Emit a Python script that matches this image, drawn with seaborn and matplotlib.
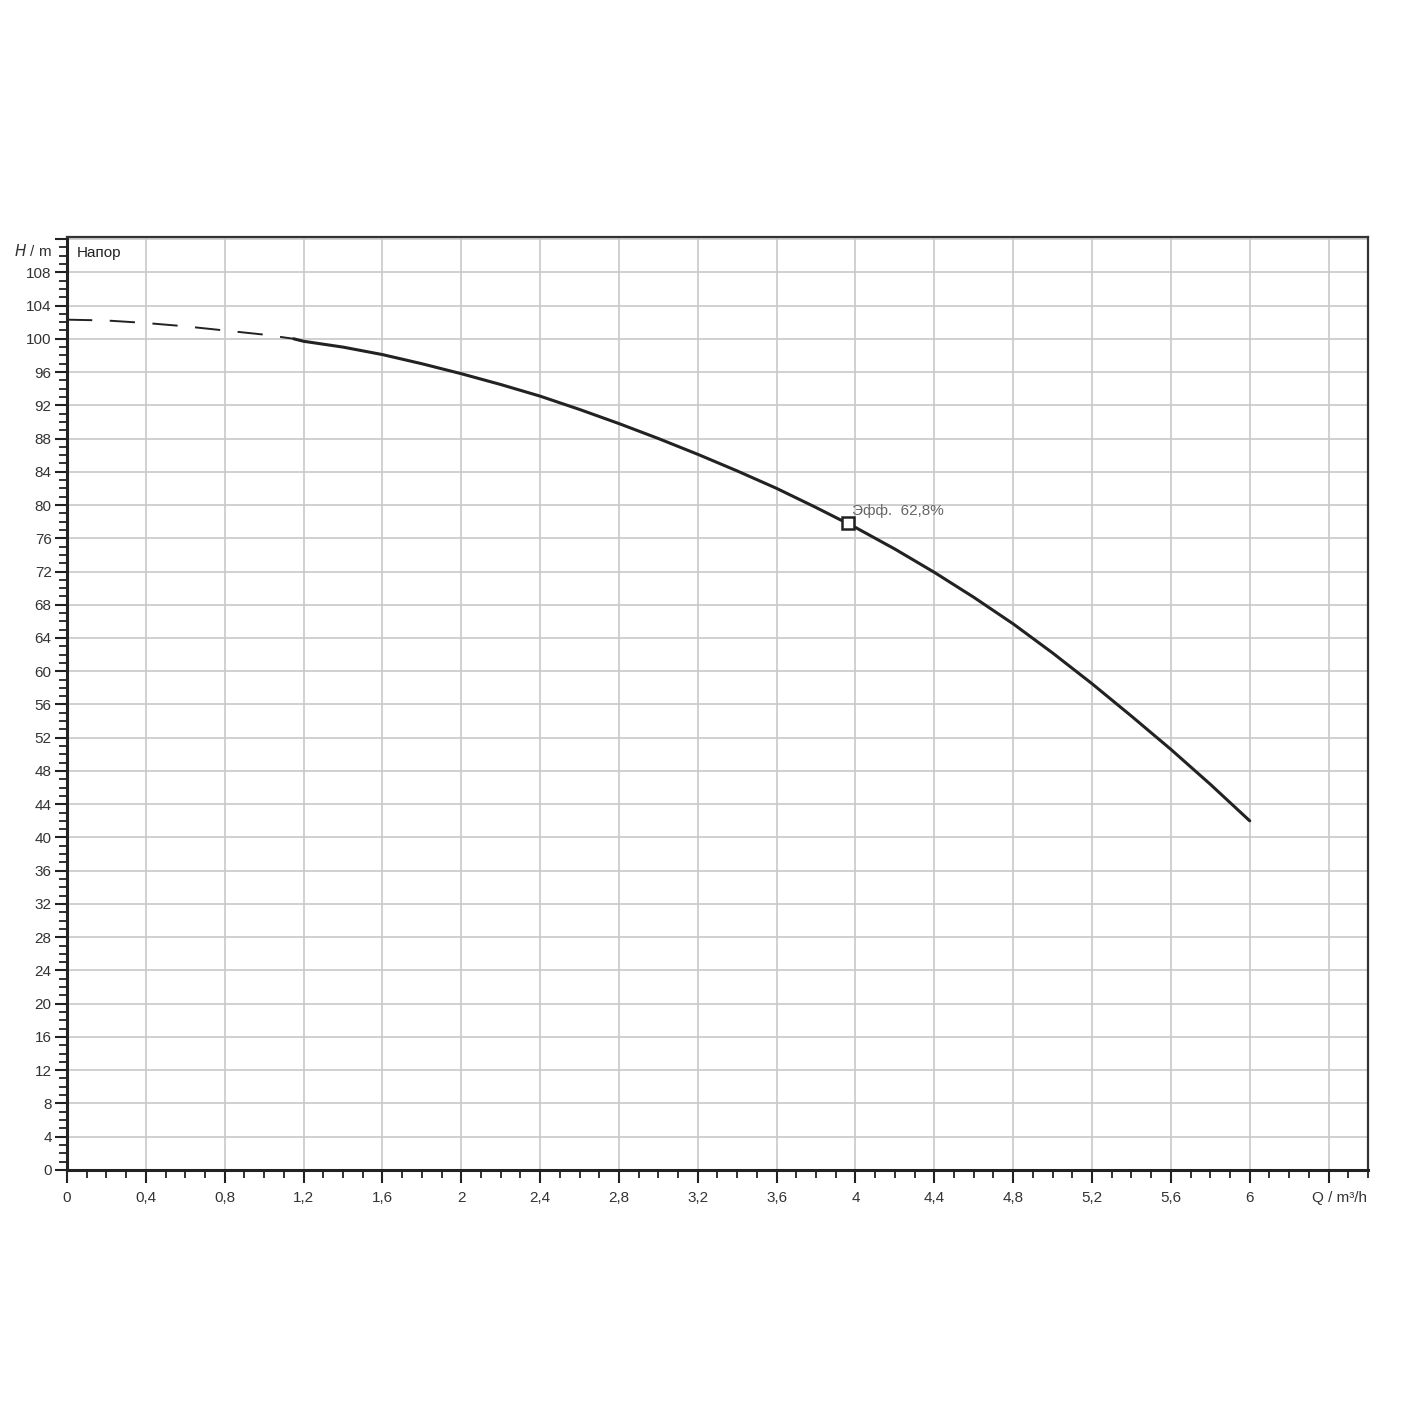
import seaborn as sns
import matplotlib
matplotlib.use("Agg")
from matplotlib import pyplot as plt
from matplotlib.ticker import MultipleLocator, FuncFormatter

sns.set_theme(style="white")
plt.rcParams['font.family'] = ['Liberation Sans', 'DejaVu Sans']

# dashed part of the head curve (low flow)
q_dash = [0.0, 0.2, 0.4, 0.6, 0.8, 1.0, 1.15]
h_dash = [102.3, 102.2, 101.9, 101.5, 101.0, 100.5, 100.0]

# solid part of the head curve
q_curve = [1.15, 1.2, 1.4, 1.6, 1.8, 2.0, 2.2, 2.4, 2.6, 2.8, 3.0, 3.2, 3.4,
           3.6, 3.8, 4.0, 4.2, 4.4, 4.6, 4.8, 5.0, 5.2, 5.4, 5.6, 5.8, 6.0]
h_curve = [100.0, 99.7, 99.0, 98.1, 97.0, 95.8, 94.5, 93.1, 91.5, 89.8, 88.0,
           86.1, 84.1, 82.0, 79.7, 77.3, 74.7, 71.9, 68.9, 65.7, 62.2, 58.5,
           54.6, 50.6, 46.4, 42.0]

# duty point
q_eff = [3.96]
h_eff = [77.8]
eff_label = "Эфф.  62,8%"

fig = plt.figure(figsize=(14.25, 14.25), dpi=100)
ax = fig.add_axes([0.047, 0.179, 0.913, 0.655])

sns.lineplot(x=q_dash, y=h_dash, ax=ax, color="#222222", lw=1.4,
             linestyle=(0, (13, 9)))
sns.lineplot(x=q_curve, y=h_curve, ax=ax, color="#222222", lw=2.2)
ax.plot(q_eff, h_eff, marker="s", ms=8, mfc="white", mec="#222222",
        mew=1.8, ls="none", zorder=5)
ax.text(3.98, 79.3, eff_label, fontsize=11, color="#666666",
        ha="left", va="center")

ax.set_xlim(0, 6.6)
ax.set_ylim(0, 112.3)
ax.xaxis.set_major_locator(MultipleLocator(0.4))
ax.xaxis.set_minor_locator(MultipleLocator(0.1))
ax.yaxis.set_major_locator(MultipleLocator(4))
ax.yaxis.set_minor_locator(MultipleLocator(1))


def fmt_x(v, pos):
    if v > 6.2:
        return ""
    s = f"{v:.1f}".rstrip("0").rstrip(".")
    return s.replace(".", ",")


def fmt_y(v, pos):
    if v > 109:
        return ""
    return f"{v:.0f}"


ax.xaxis.set_major_formatter(FuncFormatter(fmt_x))
ax.yaxis.set_major_formatter(FuncFormatter(fmt_y))
ax.tick_params(axis="both", which="major", direction="out", length=9,
               width=1.5, color="#222222", labelsize=11, labelcolor="#333333",
               left=True, bottom=True)
ax.tick_params(axis="both", which="minor", direction="out", length=5.5,
               width=1.3, color="#222222", left=True, bottom=True)
ax.tick_params(axis="y", which="major", pad=2)
ax.tick_params(axis="x", which="major", pad=6)

ax.grid(True, which="major", color="#c8c8c8", lw=1.2)
for side in ["left", "bottom"]:
    ax.spines[side].set_color("#222222")
    ax.spines[side].set_linewidth(2.2)
for side in ["top", "right"]:
    ax.spines[side].set_color("#333333")
    ax.spines[side].set_linewidth(1.6)

ax.set_xlabel("")
ax.set_ylabel("")
ax.text(-0.075, 110.6, "$\\it{H}$ / m", ha="right", va="center",
        fontsize=11, color="#333333")
ax.text(6.455, -3.4, "Q / m³/h", ha="center", va="center", fontsize=11,
        color="#333333")
ax.text(0.05, 110.3, "Напор", ha="left", va="center", fontsize=11,
        color="#222222")

fig.savefig("out.png", dpi=100)
